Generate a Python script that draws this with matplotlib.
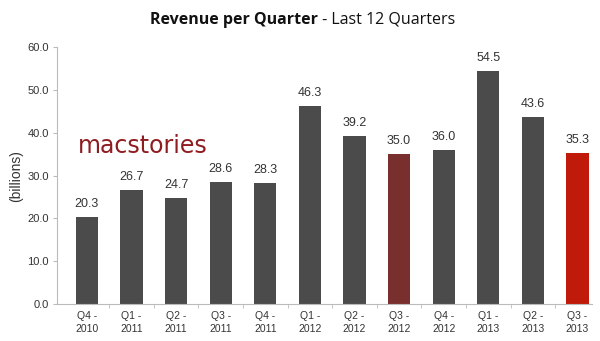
import numpy as np
import matplotlib
matplotlib.use('Agg')
import matplotlib.pyplot as plt

# Data
quarters = ['Q4 -\n2010', 'Q1 -\n2011', 'Q2 -\n2011', 'Q3 -\n2011', 'Q4 -\n2011', 'Q1 -\n2012',
            'Q2 -\n2012', 'Q3 -\n2012', 'Q4 -\n2012', 'Q1 -\n2013', 'Q2 -\n2013', 'Q3 -\n2013']
revenue = [20.3, 26.7, 24.7, 28.6, 28.3, 46.3, 39.2, 35.0, 36.0, 54.5, 43.6, 35.3]
bar_colors = ['#4b4b4b'] * 7 + ['#7a2f2f'] + ['#4b4b4b'] * 3 + ['#c01a0a']

plt.rcParams['font.family'] = ['Liberation Sans', 'DejaVu Sans']

fig = plt.figure(figsize=(6.0, 3.41), dpi=100)
ax = fig.add_axes([0.095, 0.108, 0.892, 0.754])

x = np.arange(len(revenue))
ax.bar(x, revenue, width=0.5, color=bar_colors, zorder=2)

for xi, v in zip(x, revenue):
    ax.annotate('%.1f' % v, (xi, v), xytext=(0, 5), textcoords='offset points',
                ha='center', va='bottom', fontsize=9, color='#333333')

ax.set_xlim(-0.67, 11.33)
ax.set_ylim(0, 60)
ax.set_yticks(np.arange(0, 61, 10))
ax.set_yticklabels(['%.1f' % t for t in np.arange(0, 61, 10)], fontsize=8, color='#333333')
ax.set_xticks(x)
ax.set_xticklabels(quarters, fontsize=7.5, color='#333333', linespacing=1.3)
ax.tick_params(axis='x', which='major', length=0, pad=5)
ax.set_xticks(x[1:] - 0.5, minor=True)
ax.tick_params(axis='x', which='minor', length=3, color='#bbbbbb')
ax.tick_params(axis='y', length=3, color='#bbbbbb', pad=3)

for s in ['top', 'right']:
    ax.spines[s].set_visible(False)
for s in ['left', 'bottom']:
    ax.spines[s].set_color('#bbbbbb')
    ax.spines[s].set_linewidth(0.8)

ax.set_ylabel('(billions)', fontsize=10, color='#333333', labelpad=3)

# Title: bold part + regular part
fig.text(0.530, 0.930, 'Revenue per Quarter', ha='right', va='baseline', fontsize=11.5,
         fontweight='bold', family=['Open Sans', 'DejaVu Sans'], color='#111111')
fig.text(0.530, 0.930, ' - Last 12 Quarters', ha='left', va='baseline', fontsize=11.5,
         family=['Open Sans', 'DejaVu Sans'], color='#111111')

# Watermark
fig.text(0.130, 0.550, 'macstories', ha='left', va='baseline', fontsize=17,
         family=['DejaVu Sans'], color='#8e1c20')

fig.savefig('out.png', dpi=100)
